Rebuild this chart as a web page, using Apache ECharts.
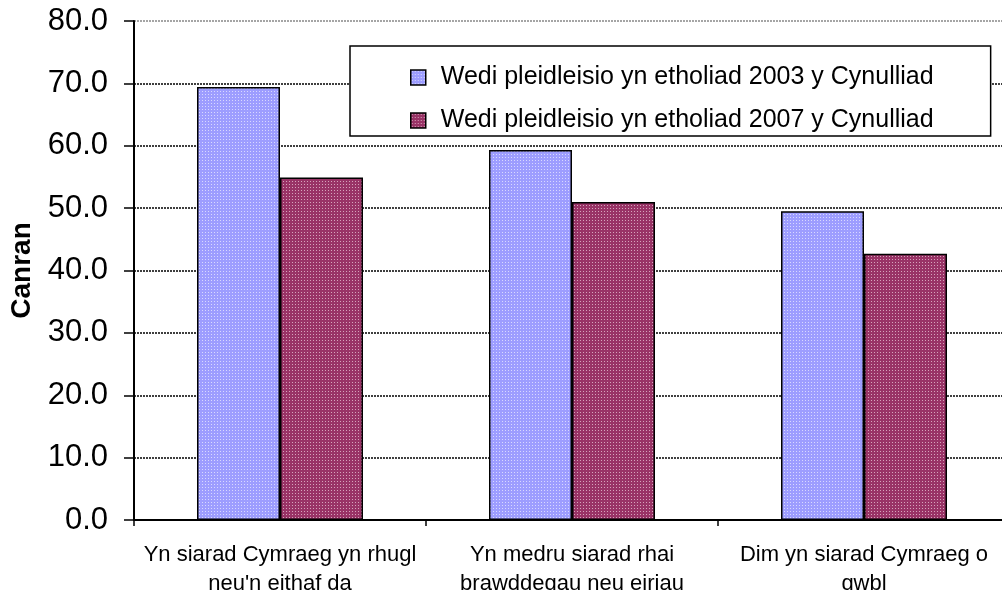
<!DOCTYPE html>
<html>
<head>
<meta charset="utf-8">
<script src="https://cdn.jsdelivr.net/npm/echarts@6/dist/echarts.min.js"></script>
<style>
html,body{margin:0;padding:0;background:#fff;}
#main{width:1002px;height:590px;}
</style>
</head>
<body>
<div id="main"></div>
<script>
const categories = ["Yn siarad Cymraeg yn rhugl\nneu'n eithaf da", "Yn medru siarad rhai\nbrawddegau neu eiriau", "Dim yn siarad Cymraeg o\ngwbl"];
const seriesNames = ["Wedi pleidleisio yn etholiad 2003 y Cynulliad", "Wedi pleidleisio yn etholiad 2007 y Cynulliad"];
const values2003 = [69.4, 59.3, 49.5];
const values2007 = [54.9, 51.0, 42.7];
const yTicks = [0, 10, 20, 30, 40, 50, 60, 70, 80];

function makePattern(base, dot) {
  const c = document.createElement('canvas');
  c.width = 3; c.height = 3;
  const ctx = c.getContext('2d');
  ctx.fillStyle = base; ctx.fillRect(0, 0, 3, 3);
  ctx.fillStyle = dot; ctx.fillRect(1, 1, 1, 1);
  return { image: c, repeat: 'repeat' };
}
const bluePat = makePattern('#9d9dff', '#d8d8ff');
const redPat = makePattern('#993366', '#d6a3bb');

const FONT = "'Liberation Sans', Arial, sans-serif";
const chart = echarts.init(document.getElementById('main'), null, { renderer: 'canvas' });
const splitColors = yTicks.map((v, i) => i === yTicks.length - 1 ? '#888888' : '#000000');

chart.setOption({
  animation: false,
  backgroundColor: '#ffffff',
  textStyle: { fontFamily: FONT },
  grid: { left: 134, top: 21, width: 876, height: 499, containLabel: false, outerBoundsMode: 'none' },
  legend: {
    orient: 'vertical',
    left: 350, top: 46,
    padding: [19, 57, 3, 60],
    backgroundColor: '#ffffff',
    borderColor: '#000000', borderWidth: 1.5,
    itemWidth: 15, itemHeight: 15, itemGap: 18,
    icon: 'rect',
    textStyle: { fontFamily: FONT, fontSize: 25, color: '#000', lineHeight: 25, padding: [0, 0, 0, 10] },
    itemStyle: { borderColor: '#000', borderWidth: 1.5 },
    data: seriesNames
  },
  xAxis: {
    type: 'category',
    data: categories,
    axisLine: { lineStyle: { color: '#000', width: 2 } },
    axisTick: { show: true, length: 6, alignWithLabel: false, lineStyle: { color: '#000', width: 1.5 } },
    axisLabel: { fontFamily: FONT, fontSize: 22, lineHeight: 29, color: '#000', margin: 20, interval: 0 }
  },
  yAxis: {
    type: 'value',
    min: 0, max: 80, interval: 10,
    name: 'Canran',
    nameLocation: 'middle',
    nameGap: 97,
    nameTextStyle: { fontFamily: FONT, fontSize: 28, fontWeight: 'bold', color: '#000' },
    axisLine: { show: true, lineStyle: { color: '#000', width: 2 } },
    axisTick: { show: true, length: 10, lineStyle: { color: '#000', width: 1.5 } },
    axisLabel: { fontFamily: FONT, fontSize: 31, color: '#000', margin: 26, formatter: v => v.toFixed(1) },
    splitLine: { show: true, lineStyle: { color: splitColors, type: [2, 1], width: 1.5 } }
  },
  series: [
    {
      name: seriesNames[0], type: 'bar', data: values2003,
      barWidth: 83, barGap: '0%',
      itemStyle: { color: bluePat, borderColor: '#000', borderWidth: 1.5 }
    },
    {
      name: seriesNames[1], type: 'bar', data: values2007,
      barWidth: 83, barGap: '0%',
      itemStyle: { color: redPat, borderColor: '#000', borderWidth: 1.5 }
    }
  ]
});
</script>
</body>
</html>
